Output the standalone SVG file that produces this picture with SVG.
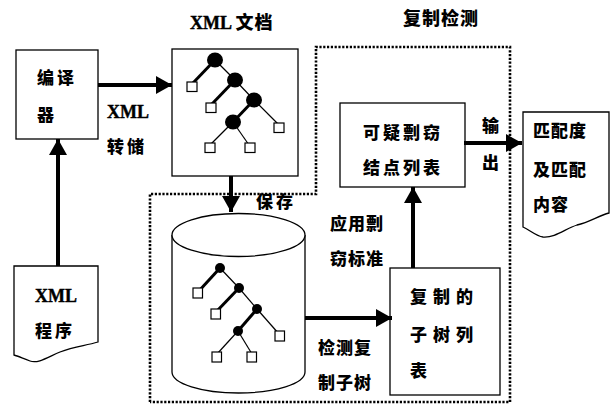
<svg xmlns="http://www.w3.org/2000/svg" width="610" height="410" viewBox="0 0 610 410">
<style>
.box{fill:#fff;stroke:#000;stroke-width:1.3}
.t{font-family:"Noto Sans CJK SC","Noto Sans CJK JP",sans-serif;font-weight:900;font-size:17px;letter-spacing:3px;fill:#000}
.tl{font-family:"Liberation Serif",serif;font-weight:bold;font-size:18px;fill:#000;stroke:#000;stroke-width:0.4}
.arr{stroke:#000;stroke-width:4;fill:none}
.dot{fill:none;stroke:#000;stroke-width:2.6;stroke-dasharray:2.2 1.6}
.thin{stroke:#000;stroke-width:1.2}
.thick{stroke:#000;stroke-width:3}
.sq{fill:#fff;stroke:#000;stroke-width:1.2}
</style>
<defs>
<marker id="ah" markerUnits="userSpaceOnUse" markerWidth="18" markerHeight="18" viewBox="0 0 16 18" refX="16" refY="9" orient="auto">
<path d="M0,0 L16,9 L0,18 Z" fill="#000"/>
</marker>
</defs>
<rect width="610" height="410" fill="#fff"/>

<g id="region">
<path class="dot" d="M150,402 L150,194 L316,194 L316,47 L510,47 L510,402 L150,402"/>
</g>

<g id="titles">
<text class="tl" x="190" y="29">XML <tspan class="t" style="font-size:18px;letter-spacing:1px;stroke:none">文档</tspan></text>
<text class="t" x="403" y="25" style="font-size:18px;letter-spacing:1px">复制检测</text>
</g>

<g id="compiler">
<rect class="box" x="16" y="50" width="82" height="89"/>
<text class="t" x="37" y="84">编译</text>
<text class="t" x="37" y="121">器</text>
</g>

<g id="xmlprog">
<path class="box" d="M14,266 L98,266 L98,342 C85,346 75,346 60,352 C48,357 38,364 30,361 C24,359 18,356 14,355 Z"/>
<text class="tl" x="35" y="302">XML</text>
<text class="t" x="35" y="337">程序</text>
</g>

<g id="xmldoc">
<rect class="box" x="172" y="49" width="126" height="127"/>
<line class="thick" x1="215" y1="60" x2="192" y2="84"/>
<line class="thin" x1="215" y1="60" x2="235" y2="80"/>
<line class="thick" x1="235" y1="80" x2="211" y2="105"/>
<line class="thin" x1="235" y1="80" x2="254" y2="100"/>
<line class="thick" x1="254" y1="100" x2="233" y2="122"/>
<line class="thin" x1="254" y1="100" x2="279" y2="125"/>
<line class="thin" x1="233" y1="122" x2="210" y2="145"/>
<line class="thin" x1="233" y1="122" x2="249" y2="145"/>
<ellipse cx="215" cy="60" rx="8" ry="7.5"/>
<ellipse cx="235" cy="80" rx="8" ry="7.5"/>
<ellipse cx="254" cy="100" rx="8" ry="7.5"/>
<ellipse cx="233" cy="122" rx="8" ry="7.5"/>
<rect class="sq" x="187" y="82" width="10" height="9.5"/>
<rect class="sq" x="206" y="103" width="10" height="9.5"/>
<rect class="sq" x="274" y="123" width="10" height="9.5"/>
<rect class="sq" x="205" y="143" width="10" height="9.5"/>
<rect class="sq" x="245" y="143" width="10" height="9.5"/>
</g>

<g id="storage">
<path class="box" d="M172,235 L172,372 A66.5,21 0 0 0 305,372 L305,235"/>
<ellipse class="box" cx="238.5" cy="235" rx="66.5" ry="21.5"/>
<line class="thick" x1="220" y1="268" x2="198" y2="292"/>
<line class="thin" x1="220" y1="268" x2="239" y2="288"/>
<line class="thick" x1="239" y1="288" x2="216" y2="312"/>
<line class="thin" x1="239" y1="288" x2="257" y2="309"/>
<line class="thick" x1="257" y1="309" x2="238" y2="331"/>
<line class="thin" x1="257" y1="309" x2="279" y2="334"/>
<line class="thin" x1="238" y1="331" x2="217" y2="354"/>
<line class="thin" x1="238" y1="331" x2="252" y2="354"/>
<circle cx="220" cy="268" r="5"/>
<circle cx="239" cy="288" r="5"/>
<circle cx="257" cy="309" r="5"/>
<circle cx="238" cy="331" r="5"/>
<rect class="sq" x="193" y="288" width="9.5" height="10"/>
<rect class="sq" x="211" y="309" width="9.5" height="10"/>
<rect class="sq" x="275" y="331" width="9.5" height="10"/>
<rect class="sq" x="212" y="352" width="9.5" height="10"/>
<rect class="sq" x="247" y="352" width="9.5" height="10"/>
</g>

<g id="suspect">
<rect class="box" x="340" y="103" width="125" height="84"/>
<text class="t" x="363" y="139">可疑剽窃</text>
<text class="t" x="363" y="174">结点列表</text>
</g>

<g id="copylist">
<rect class="box" x="390" y="268" width="110" height="127"/>
<text class="t" x="410" y="303" style="letter-spacing:6px">复制的</text>
<text class="t" x="410" y="341" style="letter-spacing:6px">子树列</text>
<text class="t" x="410" y="377">表</text>
</g>

<g id="output">
<path class="box" d="M523,112 L609,112 L609,213 C598,216 590,222 577,225 C565,229 555,238 543,237 C536,236 530,230 523,227 Z"/>
<text class="t" x="533" y="137" style="letter-spacing:1px">匹配度</text>
<text class="t" x="533" y="176" style="letter-spacing:1px">及匹配</text>
<text class="t" x="533" y="211" style="letter-spacing:1px">内容</text>
</g>

<g id="connectors">
<line class="arr" x1="98" y1="85" x2="172" y2="85" marker-end="url(#ah)"/>
<line class="arr" x1="58" y1="266" x2="58" y2="139" marker-end="url(#ah)"/>
<line class="arr" x1="231" y1="176" x2="231" y2="212" marker-end="url(#ah)"/>
<line class="arr" x1="305" y1="318" x2="392" y2="318" marker-end="url(#ah)"/>
<line class="arr" x1="413" y1="268" x2="413" y2="187" marker-end="url(#ah)"/>
<line class="arr" x1="464" y1="143" x2="522" y2="143" marker-end="url(#ah)"/>
</g>

<g id="labels">
<text class="tl" x="107" y="118">XML</text>
<text class="t" x="107" y="153">转储</text>
<text class="t" x="256" y="208">保存</text>
<text class="t" x="482" y="132">输</text>
<text class="t" x="482" y="169">出</text>
<text class="t" x="330" y="230" style="letter-spacing:1px">应用剽</text>
<text class="t" x="330" y="265" style="letter-spacing:1px">窃标准</text>
<text class="t" x="318" y="354" style="letter-spacing:1px">检测复</text>
<text class="t" x="318" y="389" style="letter-spacing:1px">制子树</text>
</g>
</svg>
